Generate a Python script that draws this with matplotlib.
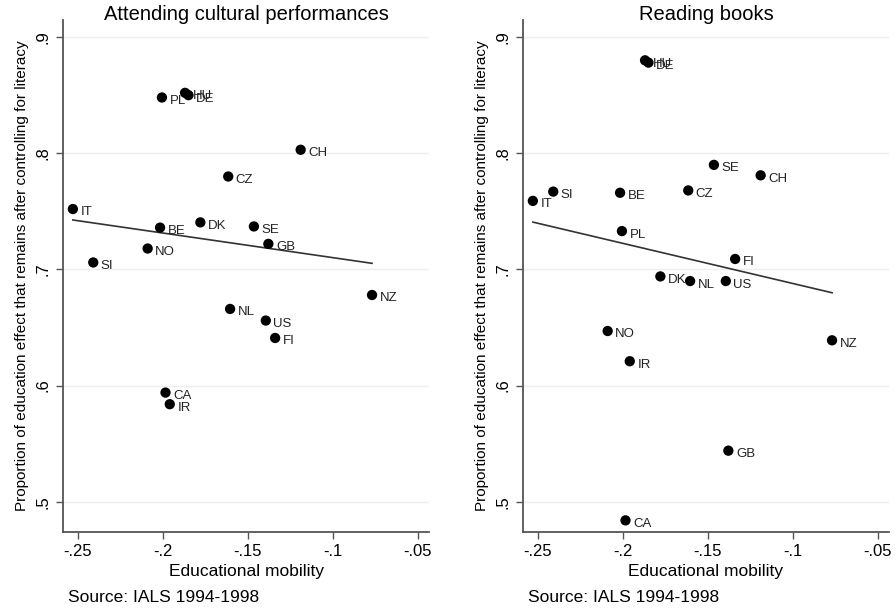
import numpy as np
import matplotlib
matplotlib.use("Agg")
import matplotlib.pyplot as plt

plt.rcParams['font.family'] = ['Liberation Sans', 'DejaVu Sans']

countries = ["IT", "SI", "NO", "BE", "PL", "HU", "DE", "DK", "CZ", "SE",
             "GB", "CH", "NZ", "NL", "US", "FI", "CA", "IR"]
mobility = [-0.253, -0.241, -0.209, -0.2017, -0.2006, -0.187, -0.185, -0.178, -0.1616, -0.1465,
            -0.138, -0.119, -0.077, -0.1605, -0.1395, -0.134, -0.1985, -0.196]
cultural = [0.752, 0.706, 0.718, 0.736, 0.848, 0.852, 0.850, 0.7405, 0.780, 0.737,
            0.722, 0.803, 0.678, 0.666, 0.656, 0.641, 0.594, 0.584]
reading = [0.759, 0.767, 0.647, 0.766, 0.733, 0.880, 0.878, 0.694, 0.768, 0.790,
           0.544, 0.781, 0.639, 0.690, 0.690, 0.709, 0.484, 0.621]

titles = ["Attending cultural performances", "Reading books"]
xticks = [-0.25, -0.2, -0.15, -0.1, -0.05]
xticklabels = ["-.25", "-.2", "-.15", "-.1", "-.05"]
yticks = [0.5, 0.6, 0.7, 0.8, 0.9]
yticklabels = [".5", ".6", ".7", ".8", ".9"]

fig = plt.figure(figsize=(8.96, 6.08), dpi=100)
W, H = 896, 608
axes_px = [(63, 429), (523, 889)]
top_px, bot_px = 20, 532
axis_col = "#555555"

for i, (yvals, title) in enumerate(zip([cultural, reading], titles)):
    l, r = axes_px[i]
    ax = fig.add_axes([l / W, 1 - bot_px / H, (r - l) / W, (bot_px - top_px) / H])
    ax.set_xlim(-0.2588, -0.0435)
    ax.set_ylim(0.474, 0.9147)
    x = np.array(mobility)
    y = np.array(yvals)
    for yt in yticks:
        ax.axhline(yt, color="#eeeeee", lw=1.0, zorder=0)
    ax.scatter(x, y, s=55, color="black", zorder=3, edgecolors="none")
    for c, xi, yi in zip(countries, x, y):
        ax.annotate(c, (xi, yi), xytext=(5.5, -2.5), textcoords="offset points",
                    fontsize=9.5, va="center", ha="left", color="#222222")
    b, a = np.polyfit(x, y, 1)
    xs = np.array([x.min(), x.max()])
    ax.plot(xs, a + b * xs, color="#333333", lw=1.2, zorder=2)
    for s in ["top", "right"]:
        ax.spines[s].set_visible(False)
    for s in ["left", "bottom"]:
        ax.spines[s].set_color(axis_col)
        ax.spines[s].set_linewidth(1.3)
    ax.set_xticks(xticks)
    ax.set_xticklabels(xticklabels, fontsize=12)
    ax.set_yticks(yticks)
    ax.set_yticklabels(yticklabels, fontsize=12, rotation=90, va="center")
    ax.tick_params(colors=axis_col, labelcolor="black", length=5, width=1, pad=4)
    ax.set_xlabel("Educational mobility", fontsize=12.5, labelpad=3)
    ax.set_ylabel("Proportion of education effect that remains after controlling for literacy",
                  fontsize=11, labelpad=5)
    fig.text((l + r) / 2 / W, 1 - 15 / H, title, ha="center", va="center", fontsize=14.5)
    fig.text((l + 5) / W, 1 - 598 / H, "Source: IALS 1994-1998", ha="left", va="center", fontsize=12.5)

fig.savefig("out.png", dpi=100)
